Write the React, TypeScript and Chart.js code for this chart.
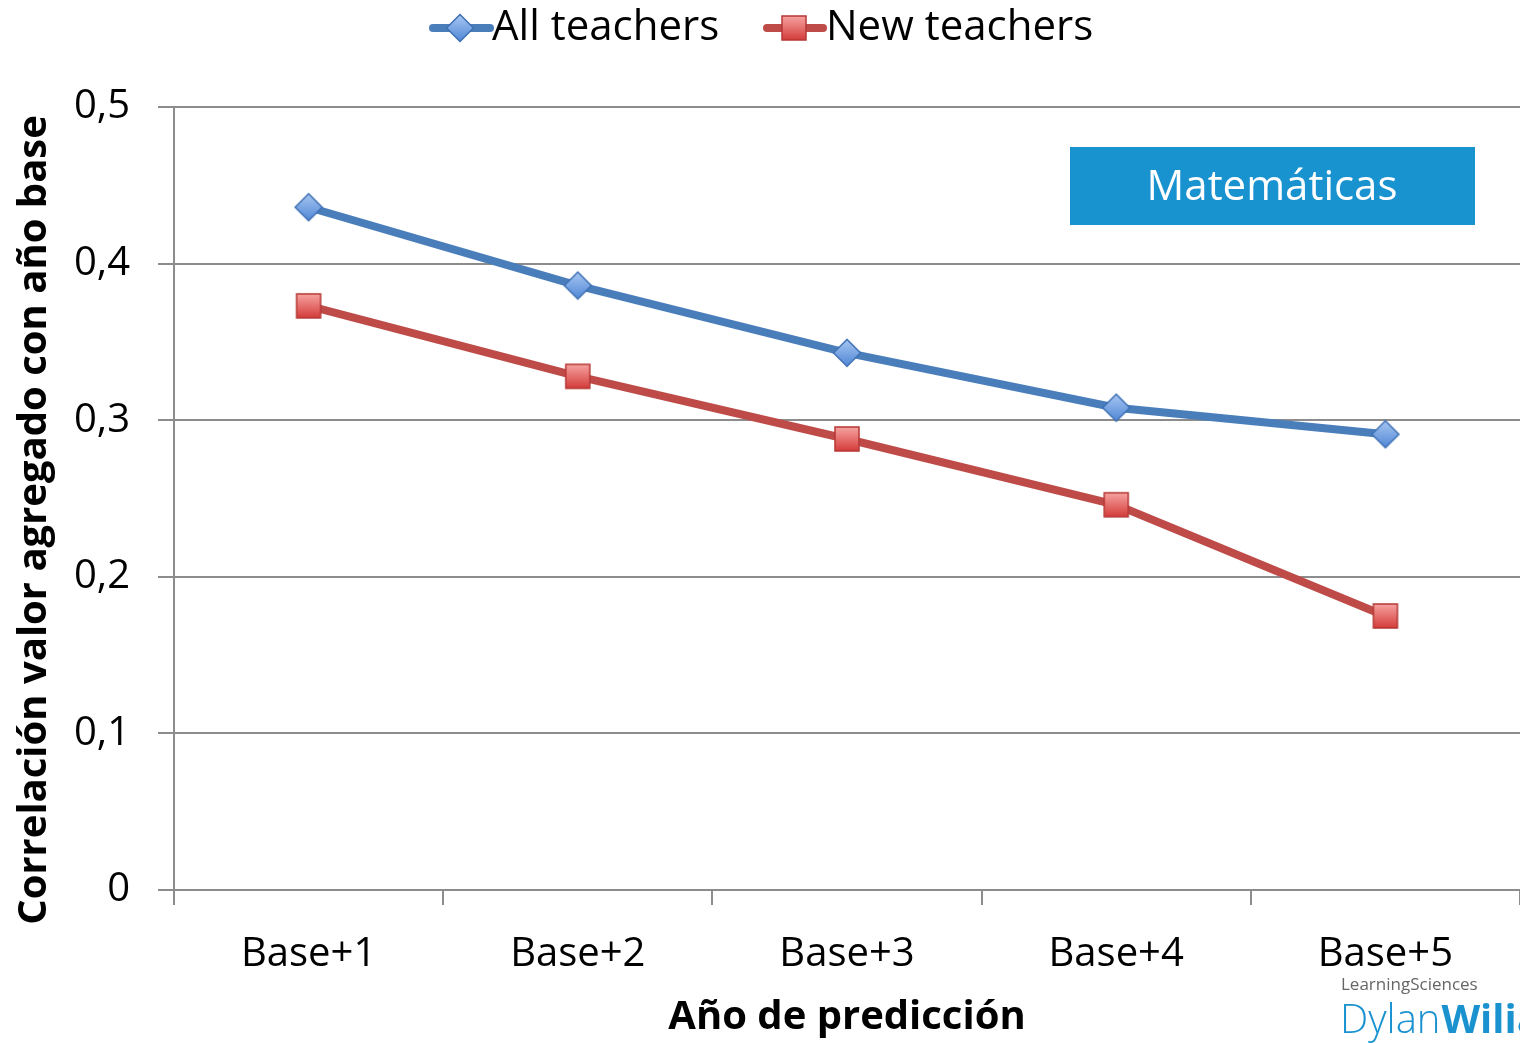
import React, { useEffect, useRef } from 'react';
import { Chart, registerables } from 'chart.js';
Chart.register(...registerables);

const categories = ['Base+1', 'Base+2', 'Base+3', 'Base+4', 'Base+5'];
const allTeachers = [0.436, 0.386, 0.343, 0.308, 0.291];
const newTeachers = [0.373, 0.328, 0.288, 0.246, 0.175];
const seriesNames = ['All teachers', 'New teachers'];
const yTitle = 'Correlación valor agregado con año base';
const xTitle = 'Año de predicción';
const panelLabel = 'Matemáticas';

const FONT = "'Open Sans', sans-serif";
const BLUE = '#4a7ebb';
const RED = '#be4b48';
const GRID = '#8c8c8c';

function makeDiamond(): HTMLCanvasElement {
  const c = document.createElement('canvas');
  c.width = 30; c.height = 30;
  const g = c.getContext('2d')!;
  const gr = g.createLinearGradient(0, 1, 0, 29);
  gr.addColorStop(0, '#a9c8f2');
  gr.addColorStop(1, '#4f86d6');
  g.beginPath();
  g.moveTo(15, 1.5); g.lineTo(28.5, 15); g.lineTo(15, 28.5); g.lineTo(1.5, 15); g.closePath();
  g.fillStyle = gr; g.fill();
  g.lineWidth = 1.5; g.strokeStyle = '#3d6fb3'; g.stroke();
  return c;
}
function makeSquare(): HTMLCanvasElement {
  const c = document.createElement('canvas');
  c.width = 28; c.height = 28;
  const g = c.getContext('2d')!;
  const gr = g.createLinearGradient(0, 2, 0, 26);
  gr.addColorStop(0, '#f6a3a1');
  gr.addColorStop(1, '#d43c3a');
  g.fillStyle = gr;
  g.fillRect(2, 2, 24, 24);
  g.lineWidth = 1.5; g.strokeStyle = '#b53735';
  g.strokeRect(2, 2, 24, 24);
  return c;
}

const overlay = {
  id: 'overlay',
  afterDraw(chart: any) {
    const ctx = chart.ctx as CanvasRenderingContext2D;
    const { diamond, square } = chart.options.plugins.overlay;
    ctx.save();
    // panel label box
    ctx.fillStyle = '#1992d0';
    ctx.fillRect(1070, 147, 405, 78);
    ctx.fillStyle = '#ffffff';
    ctx.font = `42px ${FONT}`;
    ctx.textAlign = 'center';
    ctx.textBaseline = 'middle';
    ctx.fillText(panelLabel, 1272, 188);

    // legend
    const items = [
      { x0: 433, x1: 490, mx: 460, tx: 492, color: BLUE, img: diamond, label: seriesNames[0] },
      { x0: 767, x1: 823, mx: 794, tx: 826, color: RED, img: square, label: seriesNames[1] },
    ];
    const ly = 28;
    for (const it of items) {
      ctx.strokeStyle = it.color;
      ctx.lineWidth = 8;
      ctx.lineCap = 'round';
      ctx.beginPath(); ctx.moveTo(it.x0, ly); ctx.lineTo(it.x1, ly); ctx.stroke();
      ctx.drawImage(it.img, it.mx - it.img.width / 2, ly - it.img.height / 2);
      ctx.fillStyle = '#000';
      ctx.font = `42px ${FONT}`;
      ctx.textAlign = 'left';
      ctx.textBaseline = 'middle';
      ctx.fillText(it.label, it.tx, ly);
    }

    // y title
    ctx.save();
    ctx.translate(35, 520);
    ctx.rotate(-Math.PI / 2);
    ctx.font = `bold 40px ${FONT}`;
    ctx.fillStyle = '#000';
    ctx.textAlign = 'center';
    ctx.textBaseline = 'middle';
    ctx.fillText(yTitle, 0, 0);
    ctx.restore();

    // logo
    ctx.textAlign = 'left';
    ctx.textBaseline = 'alphabetic';
    ctx.fillStyle = '#666';
    ctx.font = `17px ${FONT}`;
    ctx.fillText('LearningSciences', 1341, 990);
    ctx.fillStyle = '#1a92d0';
    ctx.font = `300 40px ${FONT}`;
    ctx.fillText('Dylan', 1340, 1033);
    const w = ctx.measureText('Dylan').width;
    ctx.font = `bold 40px ${FONT}`;
    ctx.fillText('Wiliam', 1340 + w + 1, 1033);
    ctx.restore();
  },
};

export default function App() {
  const ref = useRef<HTMLCanvasElement>(null);
  useEffect(() => {
    const diamond = makeDiamond();
    const square = makeSquare();
    const chart = new Chart(ref.current!, {
      type: 'line',
      data: {
        labels: categories,
        datasets: [
          {
            label: seriesNames[0],
            data: allTeachers,
            borderColor: BLUE,
            borderWidth: 8,
            pointStyle: diamond as any,
            pointRadius: 15,
            tension: 0,
          },
          {
            label: seriesNames[1],
            data: newTeachers,
            borderColor: RED,
            borderWidth: 8,
            pointStyle: square as any,
            pointRadius: 14,
            tension: 0,
          },
        ],
      },
      options: {
        responsive: false,
        animation: false,
        layout: { autoPadding: false, padding: { top: 107, left: 0, right: 0, bottom: 0 } },
        plugins: {
          legend: { display: false },
          tooltip: { enabled: false },
          overlay: { diamond, square },
        } as any,
        scales: {
          x: {
            offset: true,
            grid: {
              offset: true,
              drawOnChartArea: false,
              tickLength: 15,
              color: GRID,
              lineWidth: 2,
            },
            border: { color: GRID, width: 2 },
            ticks: {
              color: '#000',
              font: { family: FONT, size: 40 },
              padding: 26,
              maxRotation: 0,
            },
            title: {
              display: true,
              text: xTitle,
              color: '#000',
              font: { family: FONT, size: 40, weight: 'bold' },
              padding: { top: 0, bottom: 1 },
            },
            afterFit(scale: any) {
              scale.height = 153;
              scale.paddingRight = 0;
              scale.paddingLeft = 0;
            },
          },
          y: {
            min: 0,
            max: 0.5,
            grid: { color: GRID, lineWidth: 2, tickLength: 16 },
            border: { color: GRID, width: 2 },
            ticks: {
              stepSize: 0.1,
              color: '#000',
              font: { family: FONT, size: 40 },
              padding: 28,
              callback: (v: any) => (Number(v) === 0 ? '0' : Number(v).toFixed(1).replace('.', ',')),
            },
            afterFit(scale: any) { scale.width = 174; },
          },
        },
      },
      plugins: [overlay],
    });
    return () => chart.destroy();
  }, []);
  return (
    <canvas
      ref={ref}
      width={1520}
      height={1043}
      style={{ position: 'fixed', left: 0, top: 0, display: 'block', background: '#fff' }}
    />
  );
}
